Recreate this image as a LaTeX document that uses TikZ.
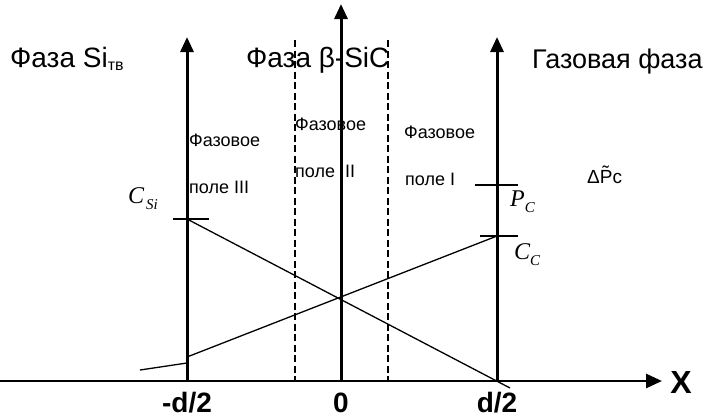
\documentclass[tikz,border=0pt]{standalone}
\usepackage{fontspec}
\setmainfont{Liberation Sans}
\newfontfamily\tms{Liberation Serif}
\usetikzlibrary{arrows.meta}
\tikzset{
  axisline/.style={line width=3pt,-{Triangle[length=15pt,width=13pt]}},
  xaxisline/.style={line width=2.8pt,-{Triangle[length=16pt,width=14pt]}},
  dashline/.style={line width=2.2pt,dash pattern=on 7pt off 3.5pt},
  thinline/.style={line width=1.3pt},
  tickline/.style={line width=1.5pt},
  title/.style={font=\fontsize{28}{32}\selectfont,inner sep=0pt,anchor=base west},
  field/.style={font=\fontsize{18}{21}\selectfont,inner sep=0pt,anchor=base west},
  blabel/.style={font=\fontsize{28}{32}\selectfont\bfseries,inner sep=0pt,anchor=base},
  mlabel/.style={font=\fontsize{24}{28}\selectfont\tms\itshape,inner sep=0pt,anchor=base west},
}
\newcommand{\sbc}[1]{\raisebox{-6pt}{\fontsize{15}{17}\selectfont #1}}
\begin{document}
\begin{tikzpicture}[x=1pt,y=-1pt]
\useasboundingbox (0,0) rectangle (710,418);
% axis coordinates
\coordinate (xs) at (0,381);
\coordinate (xe) at (662,381);
\coordinate (lb) at (187,381);
\coordinate (lt) at (187,37);
\coordinate (cb) at (341,381);
\coordinate (ct) at (341,4);
\coordinate (rb) at (497,381);
\coordinate (rt) at (497,37);
\coordinate (d1t) at (295,40);
\coordinate (d1b) at (295,381);
\coordinate (d2t) at (388,40);
\coordinate (d2b) at (388,381);
% axes
\draw[xaxisline] (xs) -- (xe);
\draw[axisline] (lb) -- (lt);
\draw[axisline] (cb) -- (ct);
\draw[axisline] (rb) -- (rt);
\draw[dashline] (d1t) -- (d1b);
\draw[dashline] (d2t) -- (d2b);
% ticks
\coordinate (csiL) at (173,219);
\coordinate (csiR) at (209,219);
\coordinate (pcL) at (475,185);
\coordinate (pcR) at (518,185);
\coordinate (ccL) at (480,236);
\coordinate (ccR) at (518,236);
\draw[tickline] (csiL) -- (csiR);
\draw[tickline] (pcL) -- (pcR);
\draw[tickline] (ccL) -- (ccR);
% profiles
\coordinate (csi) at (187,219);
\coordinate (dend) at (510,388);
\coordinate (cc) at (497,236);
\coordinate (lowR) at (187,357);
\coordinate (lowS) at (187,363);
\coordinate (lowL) at (140,370);
\draw[thinline] (csi) -- (dend);
\draw[thinline] (lowR) -- (cc);
\draw[thinline] (lowL) -- (lowS);
% titles
\node[title] (t1) at (10,67) {Фаза Si\raisebox{-3pt}{\fontsize{16}{18}\selectfont тв}};
\node[title] (t2) at (246,67) {Фаза β-SiC};
\node[title,font=\fontsize{27}{31}\selectfont] (t3) at (532,68) {Газовая фаза};
% field labels
\node[field] (f3a) at (189,146) {Фазовое};
\node[field] (f3b) at (189,193) {поле III};
\node[field] (f2a) at (295,130) {Фазовое};
\node[field] (f2b) at (295,177) {поле\hspace{10pt}II};
\node[field] (f1a) at (404,138) {Фазовое};
\node[field] (f1b) at (405,185) {поле I};
% math labels
\node[mlabel] (lcsi) at (128,203) {C\hspace{2pt}\sbc{Si}};
\node[mlabel] (lpc) at (510,206) {P\sbc{C}};
\node[mlabel] (lcc) at (514,259) {C\sbc{C}};
\node[field,font=\fontsize{19}{22}\selectfont] (dp) at (587,183) {Δ\~{P}c};
% bottom labels
\node[blabel] (m) at (187,412) {-d/2};
\node[blabel] (z) at (341,412) {0};
\node[blabel] (p) at (497,412) {d/2};
\node[blabel,font=\fontsize{32}{36}\selectfont\bfseries] (X) at (681,393) {X};
\end{tikzpicture}
\end{document}
